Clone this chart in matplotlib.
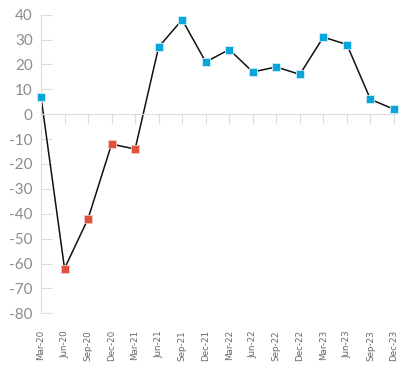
import matplotlib
matplotlib.use("Agg")
import matplotlib.pyplot as plt
from matplotlib import font_manager as fm

categories = ["Mar-20", "Jun-20", "Sep-20", "Dec-20", "Mar-21", "Jun-21", "Sep-21", "Dec-21",
              "Mar-22", "Jun-22", "Sep-22", "Dec-22", "Mar-23", "Jun-23", "Sep-23", "Dec-23"]
values = [7, -62, -42, -12, -14, 27, 38, 21, 26, 17, 19, 16, 31, 28, 6, 2]
y_ticks = [40, 30, 20, 10, 0, -10, -20, -30, -40, -50, -60, -70, -80]

names = {f.name for f in fm.fontManager.ttflist}
narrow = "Liberation Sans Narrow" if "Liberation Sans Narrow" in names else "DejaVu Sans"

fig = plt.figure(figsize=(4.11, 3.71), dpi=100)
ax = fig.add_axes([41/411, 1 - 313.3/371, (396.3 - 41)/411, (313.3 - 14.7)/371])

x = list(range(len(categories)))
ax.plot(x, values, color="#111111", lw=1.1, zorder=2, clip_on=False)
for xi, v in zip(x, values):
    c = "#e0503a" if v < 0 else "#0aa5dc"
    ax.plot(xi, v, marker="s", ms=5.6, color=c, mec="#cfeefa" if v >= 0 else "#f6c9c0",
            mew=0.6, zorder=3, clip_on=False, linestyle="none")

ax.set_xlim(0, 15.1)
ax.set_ylim(-80, 40)
ax.set_yticks(y_ticks)
ax.set_yticklabels([str(t) for t in y_ticks], color="#8c8c8c", fontsize=11,
                   family="Lato", fontweight="normal")
ax.tick_params(axis="y", direction="in", length=8, color="#dddddd", width=0.8, pad=6)

for s in ["top", "right"]:
    ax.spines[s].set_visible(False)
ax.spines["left"].set_color("#dddddd")
ax.spines["left"].set_linewidth(0.8)
ax.spines["bottom"].set_position(("data", 0))
ax.spines["bottom"].set_color("#dddddd")
ax.spines["bottom"].set_linewidth(0.8)
ax.set_xticks(x)
ax.set_xticklabels([])
ax.tick_params(axis="x", direction="out", length=7, color="#dddddd", width=0.8)

sec = ax.secondary_xaxis(0.0)
sec.set_xticks(x)
sec.set_xticklabels(categories, rotation=90, fontsize=6.3, color="#666666", family=narrow)
sec.tick_params(axis="x", length=0, pad=12)
sec.spines["bottom"].set_visible(False)

fig.savefig("out.png", dpi=100)
